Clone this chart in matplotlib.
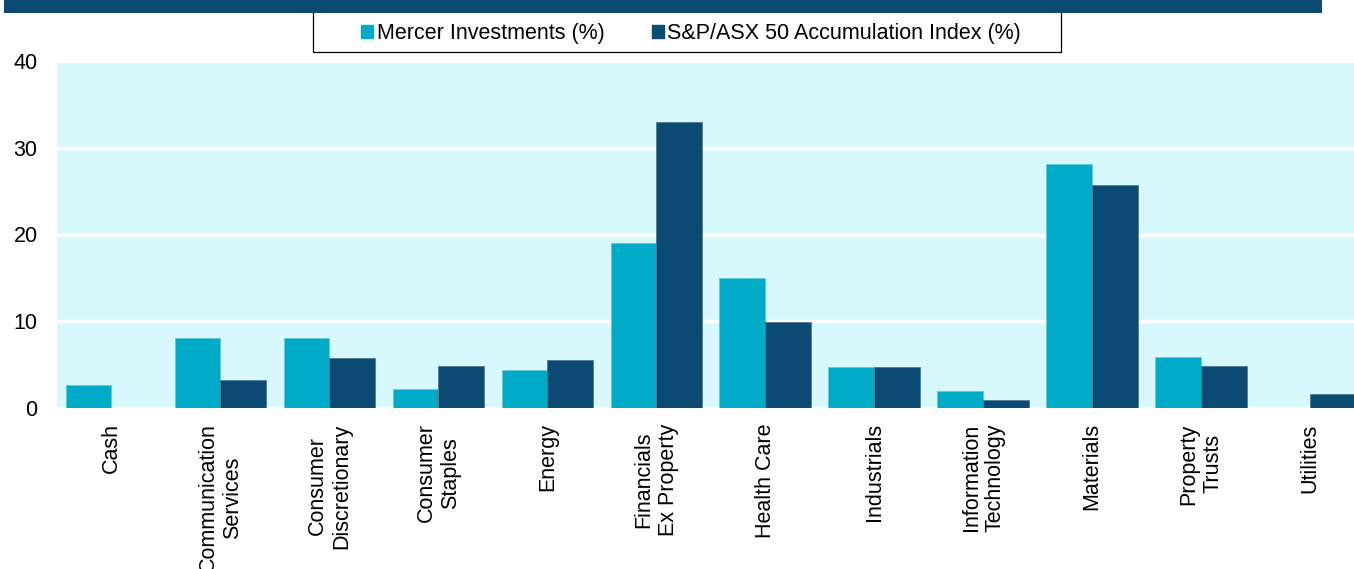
import numpy as np
import matplotlib.pyplot as plt
from matplotlib.patches import Rectangle, Patch

plt.rcParams['font.family'] = ['Liberation Sans', 'DejaVu Sans']

sectors = ['Cash', 'Communication\nServices', 'Consumer\nDiscretionary', 'Consumer\nStaples',
           'Energy', 'Financials\nEx Property', 'Health Care', 'Industrials',
           'Information\nTechnology', 'Materials', 'Property\nTrusts', 'Utilities']
mercer = [2.65, 8.1, 8.1, 2.2, 4.4, 19.0, 15.0, 4.7, 1.95, 28.1, 5.9, 0.0]
asx50 = [0.0, 3.2, 5.8, 4.85, 5.5, 33.0, 9.9, 4.7, 0.9, 25.7, 4.85, 1.6]
yticks = [0, 10, 20, 30, 40]

c_mercer = '#00abc8'
c_asx = '#0b4a73'
fs = 15.5

fig = plt.figure(figsize=(13.54, 5.69), dpi=100)
W, H = 1354., 569.
ax = fig.add_axes([57/W, 1-408/H, (1364.5-57)/W, 347/H])
ax.set_facecolor('#d7f8fd')

x = np.arange(len(sectors))
w = 0.42
ax.bar(x - w/2, mercer, w, color=c_mercer, edgecolor='#5fc8dc', linewidth=0.6, zorder=3)
ax.bar(x + w/2, asx50, w, color=c_asx, edgecolor='#4d7a99', linewidth=0.6, zorder=3)

ax.set_xlim(-0.5, len(sectors) - 0.5)
ax.set_ylim(0, 40)
ax.set_yticks(yticks)
ax.set_yticklabels([str(v) for v in yticks], fontsize=fs)
ax.set_xticks(x)
ax.set_xticklabels(sectors, rotation=90, fontsize=fs, multialignment='center')
ax.tick_params(axis='both', length=0)
ax.tick_params(axis='y', pad=14)
ax.tick_params(axis='x', pad=11)
for s in ax.spines.values():
    s.set_visible(False)
ax.yaxis.grid(True, color='white', linewidth=2.5, zorder=1)
ax.set_axisbelow(True)

handles = [Patch(color=c_mercer, label='Mercer Investments (%)'),
           Patch(color=c_asx, label='S&P/ASX 50 Accumulation Index (%)')]
leg = fig.legend(handles=handles, loc='center', bbox_to_anchor=(691/W, 1-33.5/H), ncol=2,
                 fontsize=fs, frameon=False,
                 handlelength=0.56, handleheight=0.56, handletextpad=0.15,
                 columnspacing=2.2, borderpad=0, borderaxespad=0)

# legend box, its top edge sits under the header band
fig.add_artist(Rectangle((313/W, 1-52/H), 748/W, 42/H, transform=fig.transFigure,
                         facecolor='none', edgecolor='black', linewidth=0.9, zorder=4))

# header band (cropped title bar)
fig.add_artist(Rectangle((4/W, 1-12.5/H), 1318/W, 12.5/H, transform=fig.transFigure,
                         facecolor=c_asx, edgecolor='none', zorder=10))

fig.savefig('out.png', dpi=100)
